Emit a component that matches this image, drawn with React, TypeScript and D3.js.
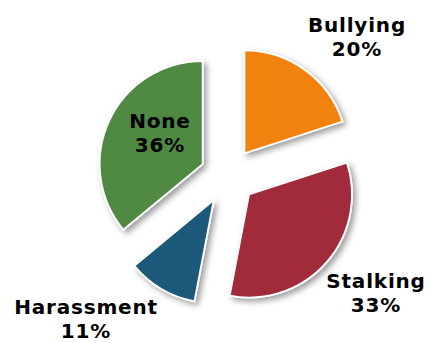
import React from "react";
import * as d3 from "d3";

const categories = ["Bullying", "Stalking", "Harassment", "None"];
const values = [20, 33, 11, 36];
const colors = ["#F0820C", "#A1293A", "#1D5879", "#4F8943"];

const W = 430, H = 343;
const cx = 228, cy = 176, R = 103, explode = 28;

const labelPos: Record<string, [number, number]> = {
  Bullying: [357, 32],
  Stalking: [376, 288],
  Harassment: [86, 314],
  None: [160, 128],
};

export default function App() {
  const pie = d3.pie<number>().sort(null).value((d) => d)(values);
  const arc = d3.arc<d3.PieArcDatum<number>>().innerRadius(0).outerRadius(R);
  return (
    <svg width={W} height={H} style={{ position: "absolute", left: 0, top: 0 }}>
      <defs>
        <filter id="sh" x="-30%" y="-30%" width="160%" height="160%">
          <feGaussianBlur in="SourceAlpha" stdDeviation="3" />
          <feOffset dx="3" dy="3" result="b" />
          <feComponentTransfer>
            <feFuncA type="linear" slope="0.4" />
          </feComponentTransfer>
          <feMerge>
            <feMergeNode />
            <feMergeNode in="SourceGraphic" />
          </feMerge>
        </filter>
      </defs>
      <rect width={W} height={H} fill="#fff" />
      {pie.map((p, i) => {
        const mid = (p.startAngle + p.endAngle) / 2;
        const dx = Math.sin(mid) * explode;
        const dy = -Math.cos(mid) * explode;
        return (
          <path
            key={i}
            d={arc(p) || ""}
            transform={`translate(${cx + dx},${cy + dy})`}
            fill={colors[i]}
            stroke="#fff"
            strokeWidth={1.8}
            strokeLinejoin="miter"
            filter="url(#sh)"
          />
        );
      })}
      {categories.map((c, i) => {
        const [x, y] = labelPos[c];
        return (
          <text
            key={c}
            x={x}
            y={y}
            textAnchor="middle"
            fontFamily="DejaVu Sans, Verdana, sans-serif"
            fontWeight="bold"
            fontSize={20}
            letterSpacing={0.8}
            fill="#000"
          >
            <tspan x={x} dy={0}>{c}</tspan>
            <tspan x={x} dy={23.5}>{values[i]}%</tspan>
          </text>
        );
      })}
    </svg>
  );
}
